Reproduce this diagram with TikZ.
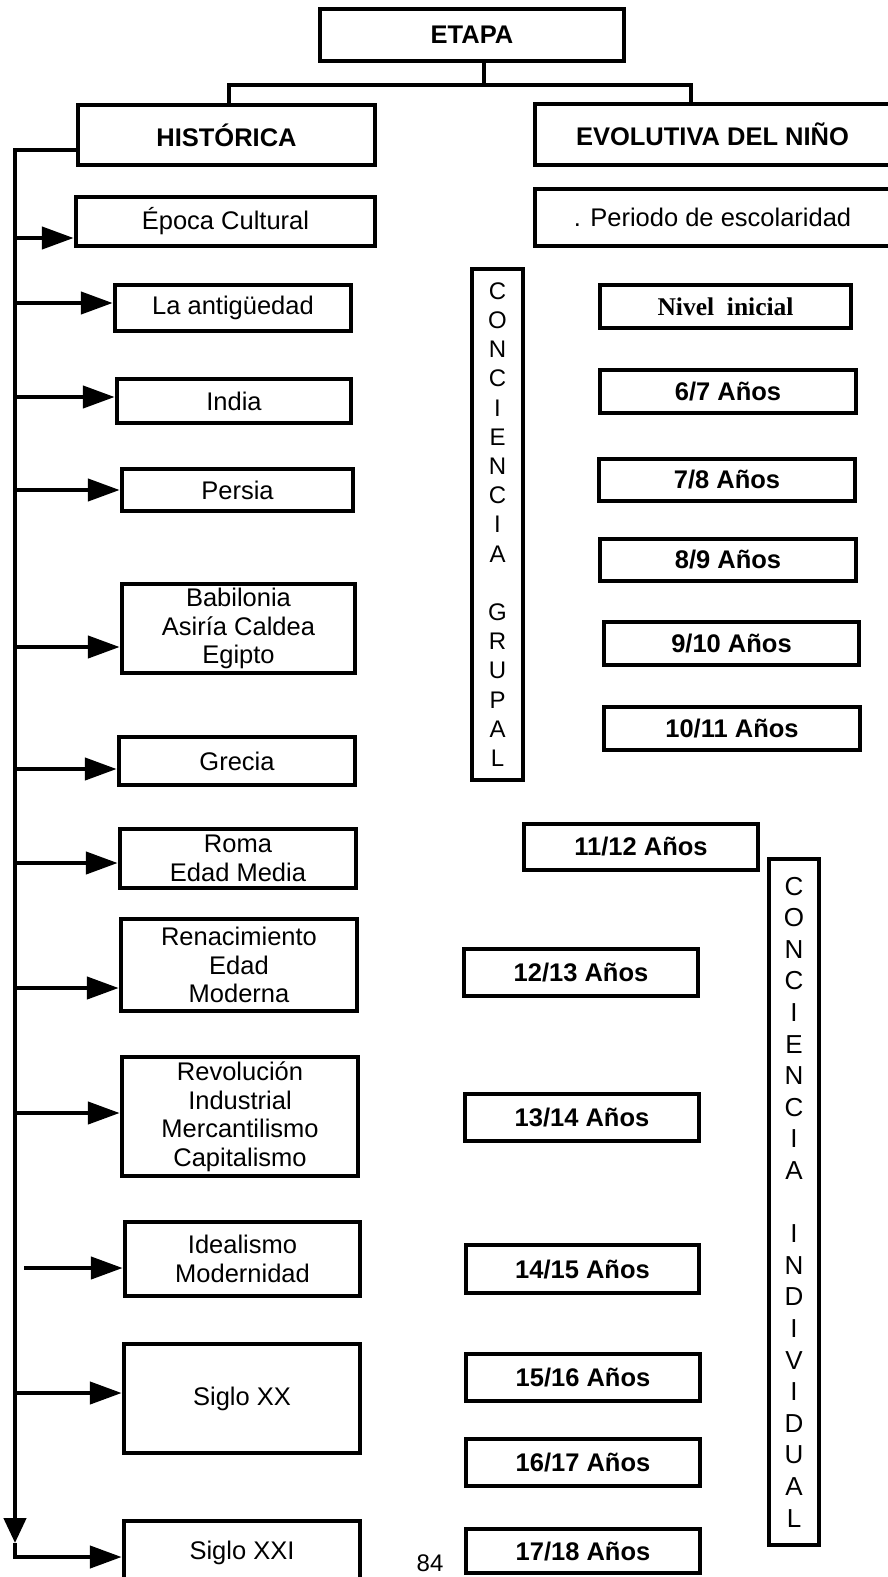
\documentclass[tikz,border=0pt]{standalone}
\usepackage{fontspec}
\setmainfont{Liberation Sans}
\newfontfamily\timesfont{Liberation Serif}
\usepackage{tikz}
\usetikzlibrary{arrows.meta}
\tikzset{
caja/.style={draw, rectangle, line width=4.5pt, inner sep=2pt, align=center, font=\fontsize{25.5}{28.5}\selectfont},
cajab/.style={caja, font=\fontsize{25.5}{28.5}\selectfont\bfseries},
linea/.style={line width=4.5pt},
flecha/.style={line width=4.5pt, -{Triangle[length=32pt,width=22pt]}}}

\begin{document}
\begin{tikzpicture}[x=1pt, y=-1pt]
    \useasboundingbox (0,0) rectangle (888,1577);
    \clip (0,0) rectangle (888,1577);

                \node[cajab, minimum width=304pt, minimum height=52pt] (etapa) at (472,35) {ETAPA};
                \node[cajab, minimum width=297pt, minimum height=60pt] (hist) at (226.5,135) {HISTÓRICA};
                \node[cajab, minimum width=355pt, minimum height=61pt] (evol) at (712.5,134.5) {EVOLUTIVA DEL NIÑO};

                \node[caja, minimum width=299pt, minimum height=49pt] (epoca) at (225.5,221.5) {Época Cultural};
                \node[caja, minimum width=236pt, minimum height=46pt] (antig) at (233,308) {La antigüedad};
                \node[caja, minimum width=234pt, minimum height=44pt] (india) at (234,401) {India};
                \node[caja, minimum width=231pt, minimum height=42pt] (persia) at (237.5,490) {Persia};
                \node[caja, minimum width=233pt, minimum height=89pt] (babil) at (238.5,628.5) {Babilonia\\Asiría Caldea\\Egipto};
                \node[caja, minimum width=236pt, minimum height=48pt] (grecia) at (237,761) {Grecia};
                \node[caja, minimum width=236pt, minimum height=59pt] (roma) at (238,858.5) {Roma\\Edad Media};
                \node[caja, minimum width=236pt, minimum height=92pt] (renac) at (239,965) {Renacimiento\\Edad\\Moderna};
                \node[caja, minimum width=236pt, minimum height=119pt] (revol) at (240,1116.5) {Revolución\\Industrial\\Mercantilismo\\Capitalismo};
                \node[caja, minimum width=235pt, minimum height=74pt] (ideal) at (242.5,1259) {Idealismo\\Modernidad};
                \node[caja, minimum width=236pt, minimum height=109pt] (sxx) at (242,1398.5) {Siglo XX};
                \node[caja, minimum width=236pt, minimum height=64pt] (sxxi) at (242,1553) {Siglo XXI};

                \node[caja, minimum width=355pt, minimum height=57pt] (period) at (712.5,217.5) {. Periodo de escolaridad};
                \node[caja, font=\fontsize{25.5}{28.5}\selectfont\timesfont\bfseries, minimum width=251pt, minimum height=43pt] (nivel) at (725.5,306.5) {Nivel~ inicial};
                \node[cajab, minimum width=256pt, minimum height=43pt] (a67) at (728,391.5) {6/7 Años};
                \node[cajab, minimum width=256pt, minimum height=42pt] (a78) at (727,480) {7/8 Años};
                \node[cajab, minimum width=256pt, minimum height=42pt] (a89) at (728,560) {8/9 Años};
                \node[cajab, minimum width=255pt, minimum height=43pt] (a910) at (731.5,643.5) {9/10 Años};
                \node[cajab, minimum width=256pt, minimum height=43pt] (a1011) at (732,728.5) {10/11 Años};
                \node[cajab, minimum width=234pt, minimum height=46pt] (a1112) at (641,847) {11/12 Años};
                \node[cajab, minimum width=234pt, minimum height=47pt] (a1213) at (581,972.5) {12/13 Años};
                \node[cajab, minimum width=234pt, minimum height=47pt] (a1314) at (582,1117.5) {13/14 Años};
                \node[cajab, minimum width=233pt, minimum height=48pt] (a1415) at (582.5,1269) {14/15 Años};
                \node[cajab, minimum width=234pt, minimum height=47pt] (a1516) at (583,1377.5) {15/16 Años};
                \node[cajab, minimum width=234pt, minimum height=47pt] (a1617) at (583,1462.5) {16/17 Años};
                \node[cajab, minimum width=234pt, minimum height=44pt] (a1718) at (583,1551) {17/18 Años};

                \node[caja, font=\fontsize{24}{29.2}\selectfont, minimum width=51pt, minimum height=511pt] (grupal) at (497.5,524.5) {C\\O\\N\\C\\I\\E\\N\\C\\I\\A\\[29.2pt]G\\R\\U\\P\\A\\L};
                \node[caja, font=\fontsize{26}{31.6}\selectfont, minimum width=50pt, minimum height=686pt] (indiv) at (794,1202) {C\\O\\N\\C\\I\\E\\N\\C\\I\\A\\[31.6pt]I\\N\\D\\I\\V\\I\\D\\U\\A\\L};

                \node[font=\fontsize{24}{26}\selectfont, inner sep=0pt] (pag) at (430,1563) {84};

                \coordinate (fork) at (484,85);
                \coordinate (izq) at (229,85);
                \coordinate (der) at (691,85);
                \draw[linea] (etapa.south -| fork) -- (fork);
                \draw[linea] (hist.north -| izq) -- (izq) -- (der) -- (evol.north -| der);

                \coordinate (s0) at (15,150);
                \coordinate (sfin) at (15,1543);
                \draw[linea, -{Triangle[length=25pt,width=22pt]}] (hist.west |- s0) -- (s0) -- (sfin);

                \coordinate (s1) at (15,238);
                \coordinate (s2) at (15,303);
                \coordinate (s3) at (15,397);
                \coordinate (s4) at (15,490);
                \coordinate (s5) at (15,647);
                \coordinate (s6) at (15,769);
                \coordinate (s7) at (15,863);
                \coordinate (s8) at (15,988);
                \coordinate (s9) at (15,1113);
                \coordinate (s10) at (24,1268);
                \coordinate (s11) at (15,1393);
                \coordinate (s12) at (15,1557);

                \draw[flecha] (s1) -- (s1 -| epoca.west);
                \draw[flecha] (s2) -- (s2 -| antig.west);
                \draw[flecha] (s3) -- (s3 -| india.west);
                \draw[flecha] (s4) -- (s4 -| persia.west);
                \draw[flecha] (s5) -- (s5 -| babil.west);
                \draw[flecha] (s6) -- (s6 -| grecia.west);
                \draw[flecha] (s7) -- (s7 -| roma.west);
                \draw[flecha] (s8) -- (s8 -| renac.west);
                \draw[flecha] (s9) -- (s9 -| revol.west);
                \draw[flecha] (s10) -- (s10 -| ideal.west);
                \draw[flecha] (s11) -- (s11 -| sxx.west);
                \draw[flecha] (sfin) -- (s12) -- (s12 -| sxxi.west);

            \end{tikzpicture}
\end{document}
